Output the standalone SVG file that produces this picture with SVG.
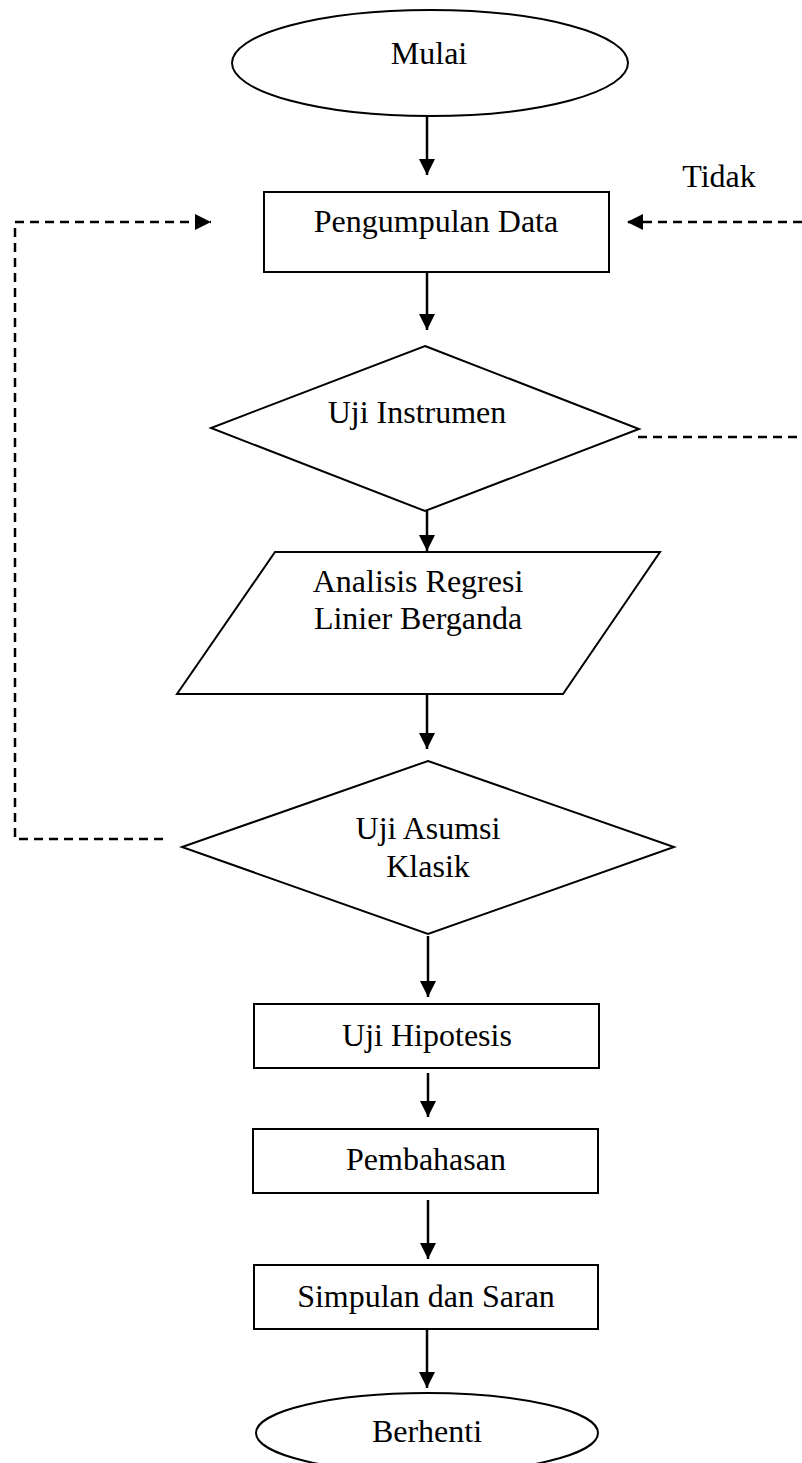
<svg xmlns="http://www.w3.org/2000/svg" width="802" height="1463" viewBox="0 0 802 1463">
  <style>
    .shape { fill: #ffffff; stroke: #000000; stroke-width: 2; }
    .lbl { font-family: "Liberation Serif", "Times New Roman", serif; font-size: 32px; fill: #000000; text-anchor: middle; }
    .conn { fill: none; stroke: #000000; stroke-width: 2.5; }
    .dash { fill: none; stroke: #000000; stroke-width: 2.5; stroke-dasharray: 9 6; }
  </style>
  <defs>
    <marker id="arr" markerUnits="userSpaceOnUse" markerWidth="18" markerHeight="18" refX="16" refY="8" orient="auto">
      <path d="M0,0 L16,8 L0,16 z" fill="#000000"/>
    </marker>
  </defs>
  <rect width="802" height="1463" fill="#ffffff"/>

  <g id="connectors">
    <line class="conn" x1="427" y1="116" x2="427" y2="175" marker-end="url(#arr)"/>
    <line class="conn" x1="427" y1="272" x2="427" y2="330" marker-end="url(#arr)"/>
    <line class="conn" x1="427" y1="511" x2="427" y2="551" marker-end="url(#arr)"/>
    <line class="conn" x1="427" y1="690" x2="427" y2="749" marker-end="url(#arr)"/>
    <line class="conn" x1="428" y1="936" x2="428" y2="997" marker-end="url(#arr)"/>
    <line class="conn" x1="428" y1="1073" x2="428" y2="1117" marker-end="url(#arr)"/>
    <line class="conn" x1="428" y1="1200" x2="428" y2="1259" marker-end="url(#arr)"/>
    <line class="conn" x1="427" y1="1329" x2="427" y2="1388" marker-end="url(#arr)"/>
    <polyline class="dash" points="163,839 15,839 15,222 211,222" marker-end="url(#arr)"/>
    <line class="dash" x1="802" y1="222" x2="627" y2="222" marker-end="url(#arr)"/>
    <line class="dash" x1="638" y1="437" x2="802" y2="437"/>
    <text class="lbl" x="719" y="187">Tidak</text>
  </g>

  <g id="mulai">
    <ellipse class="shape" cx="430" cy="63" rx="198" ry="53"/>
    <text class="lbl" x="429" y="64">Mulai</text>
  </g>

  <g id="pengumpulan-data">
    <rect class="shape" x="264" y="192" width="345" height="80"/>
    <text class="lbl" x="436" y="232">Pengumpulan Data</text>
  </g>

  <g id="uji-instrumen">
    <polygon class="shape" points="425,346 639,429 425,511 211,428"/>
    <text class="lbl" x="417" y="423">Uji Instrumen</text>
  </g>

  <g id="analisis-regresi">
    <polygon class="shape" points="275,552 660,552 563,694 177,694"/>
    <text class="lbl" x="418" y="592">Analisis Regresi</text>
    <text class="lbl" x="418" y="629">Linier Berganda</text>
  </g>

  <g id="uji-asumsi-klasik">
    <polygon class="shape" points="428,761 674,847 428,934 182,847"/>
    <text class="lbl" x="428" y="839">Uji Asumsi</text>
    <text class="lbl" x="428" y="877">Klasik</text>
  </g>

  <g id="uji-hipotesis">
    <rect class="shape" x="254" y="1004" width="345" height="64"/>
    <text class="lbl" x="427" y="1046">Uji Hipotesis</text>
  </g>

  <g id="pembahasan">
    <rect class="shape" x="253" y="1129" width="345" height="64"/>
    <text class="lbl" x="426" y="1170">Pembahasan</text>
  </g>

  <g id="simpulan-saran">
    <rect class="shape" x="254" y="1265" width="344" height="64"/>
    <text class="lbl" x="426" y="1307">Simpulan dan Saran</text>
  </g>

  <g id="berhenti">
    <ellipse class="shape" cx="427" cy="1433" rx="171" ry="40"/>
    <text class="lbl" x="427" y="1442">Berhenti</text>
  </g>
</svg>
